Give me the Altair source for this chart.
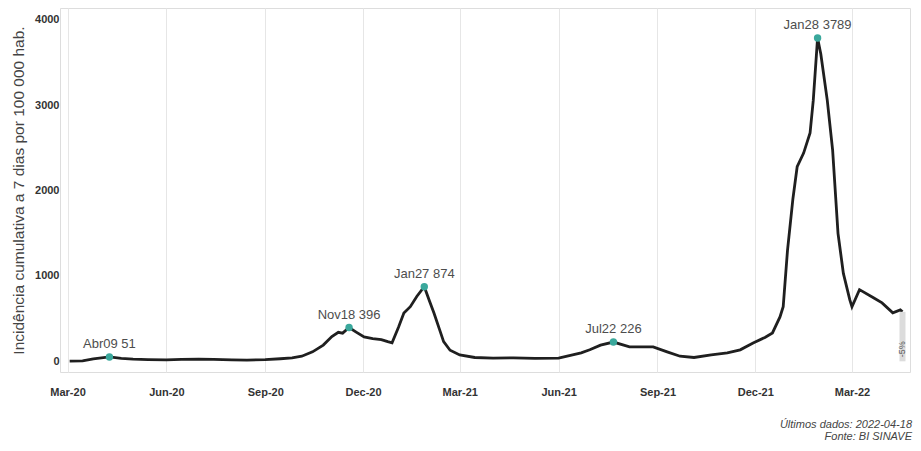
import altair as alt
import pandas as pd

# ---- data ----
dates = [
    "2020-03-03", "2020-03-15", "2020-03-25", "2020-04-09", "2020-04-20", "2020-05-01",
    "2020-05-15", "2020-06-01", "2020-06-15", "2020-07-01", "2020-07-15", "2020-08-01",
    "2020-08-15", "2020-09-01", "2020-09-15", "2020-09-26", "2020-10-05", "2020-10-15",
    "2020-10-25", "2020-11-02", "2020-11-08", "2020-11-12", "2020-11-18", "2020-11-25",
    "2020-12-02", "2020-12-10", "2020-12-18", "2020-12-24", "2020-12-28", "2021-01-03",
    "2021-01-08", "2021-01-14", "2021-01-20", "2021-01-27", "2021-02-01", "2021-02-05",
    "2021-02-10", "2021-02-14", "2021-02-20", "2021-03-01", "2021-03-15", "2021-04-01",
    "2021-04-20", "2021-05-10", "2021-06-01", "2021-06-14", "2021-06-22", "2021-06-30",
    "2021-07-10", "2021-07-22", "2021-08-06", "2021-08-28", "2021-09-10", "2021-09-22",
    "2021-10-05", "2021-10-21", "2021-11-05", "2021-11-17", "2021-11-29", "2021-12-10",
    "2021-12-17", "2021-12-24", "2021-12-27", "2021-12-31", "2022-01-05", "2022-01-09",
    "2022-01-15", "2022-01-21", "2022-01-24", "2022-01-28", "2022-01-31", "2022-02-06",
    "2022-02-11", "2022-02-16", "2022-02-21", "2022-02-27", "2022-03-01", "2022-03-08",
    "2022-03-21", "2022-03-29", "2022-04-08", "2022-04-15", "2022-04-17",
]
values = [
    2, 5, 30, 51, 35, 25,
    20, 18, 22, 25, 22, 18,
    15, 20, 30, 40, 60, 111,
    190, 290, 340, 330, 396, 340,
    286, 265, 255, 230, 216, 400,
    566, 640, 760, 874, 700, 566,
    380, 230, 130, 75, 45, 38,
    40, 35, 38, 76, 100, 135,
    190, 226, 170, 170, 111, 60,
    45, 76, 100, 135, 216, 280,
    333, 520, 640, 1300, 1900, 2280,
    2440, 2675, 3060, 3789, 3600, 3060,
    2475, 1500, 1030, 720, 640, 840,
    745, 685, 568, 603, 580,
]

peak_dates = ["2020-04-09", "2020-11-18", "2021-01-27", "2021-07-22", "2022-01-28"]
peak_values = [51, 396, 874, 226, 3789]
peak_labels = ["Abr09 51", "Nov18 396", "Jan27 874", "Jul22 226", "Jan28 3789"]

last_date = ["2022-04-17"]
last_value = [580]
change_label = ["-5%"]

x_ticks = ["2020-03-01", "2020-06-01", "2020-09-01", "2020-12-01",
           "2021-03-01", "2021-06-01", "2021-09-01", "2021-12-01", "2022-03-01"]
y_ticks = [0, 1000, 2000, 3000, 4000]

footnotes = ["Últimos dados: 2022-04-18", "Fonte: BI SINAVE"]

# ---- tables ----
series = pd.DataFrame({"date": dates, "value": values})
peaks = pd.DataFrame({"date": peak_dates, "value": peak_values, "label": peak_labels})
last = pd.DataFrame({"date": last_date, "value": last_value, "zero": [0], "label": change_label})

FONT = "Liberation Sans"


def dt(s):
    y, m, d = (int(p) for p in s.split("-"))
    return alt.DateTime(year=y, month=m, date=d, utc=True)


x_scale = alt.Scale(type="utc", domain=[dt("2020-02-23"), dt("2022-04-24")], padding=0)
y_scale = alt.Scale(domain=[-125, 4140], nice=False, zero=False)

x_axis = alt.Axis(
    values=[dt(s) for s in x_ticks], labelExpr="utcFormat(datum.value, '%b-%y')",
    grid=True, gridColor="#e6e6e6", gridWidth=1, domain=False, ticks=False,
    labelFont=FONT, labelFontSize=11, labelFontWeight="bold", labelColor="#333333",
    labelPadding=14, title=None, labelFlush=False,
)
y_axis = alt.Axis(
    values=y_ticks, format="d", grid=False, domain=False, ticks=False,
    labelFont=FONT, labelFontSize=11, labelFontWeight="bold", labelColor="#333333",
    labelPadding=1, title="Incidência cumulativa a 7 dias por 100 000 hab.",
    titleFont=FONT, titleFontSize=15.5, titleFontWeight="normal", titleColor="#444444",
    titlePadding=8,
)

X = alt.X("date:T", scale=x_scale, axis=x_axis)
Y = alt.Y("value:Q", scale=y_scale, axis=y_axis)

line = alt.Chart(series).mark_line(color="#1f1f1f", strokeWidth=2.8).encode(x=X, y=Y)

bar = alt.Chart(last).mark_bar(color="#dcdcdc", width=6).encode(x=X, y=Y, y2="zero:Q")
bar_text = alt.Chart(last).mark_text(
    angle=270, font=FONT, fontSize=9, color="#555555", align="left", baseline="middle", dx=4
).encode(x=X, y=alt.Y("zero:Q", scale=y_scale, axis=y_axis), text="label:N")

pts = alt.Chart(peaks).mark_point(filled=True, color="#3aa89c", size=55, opacity=1).encode(x=X, y=Y)
labels = alt.Chart(peaks).mark_text(
    font=FONT, fontSize=13, color="#4d4d4d", baseline="bottom", dy=-6
).encode(x=X, y=Y, text="label:N")

foot1 = alt.Chart(pd.DataFrame({"t": [footnotes[0]]})).mark_text(
    font=FONT, fontSize=11, fontStyle="italic", color="#444444", align="right", baseline="middle"
).encode(x=alt.value(852), y=alt.value(417), text="t:N")
foot2 = alt.Chart(pd.DataFrame({"t": [footnotes[1]]})).mark_text(
    font=FONT, fontSize=11, fontStyle="italic", color="#444444", align="right", baseline="middle"
).encode(x=alt.value(852), y=alt.value(429), text="t:N")

chart = alt.layer(line, bar, bar_text, pts, labels, foot1, foot2).properties(
    width=850, height=364, autosize="none",
    padding={"left": 52, "top": 0, "right": 3, "bottom": 71},
).configure_view(stroke=None).configure(background="white")

chart.save("out.html", embed_options={"renderer": "svg", "actions": False})
